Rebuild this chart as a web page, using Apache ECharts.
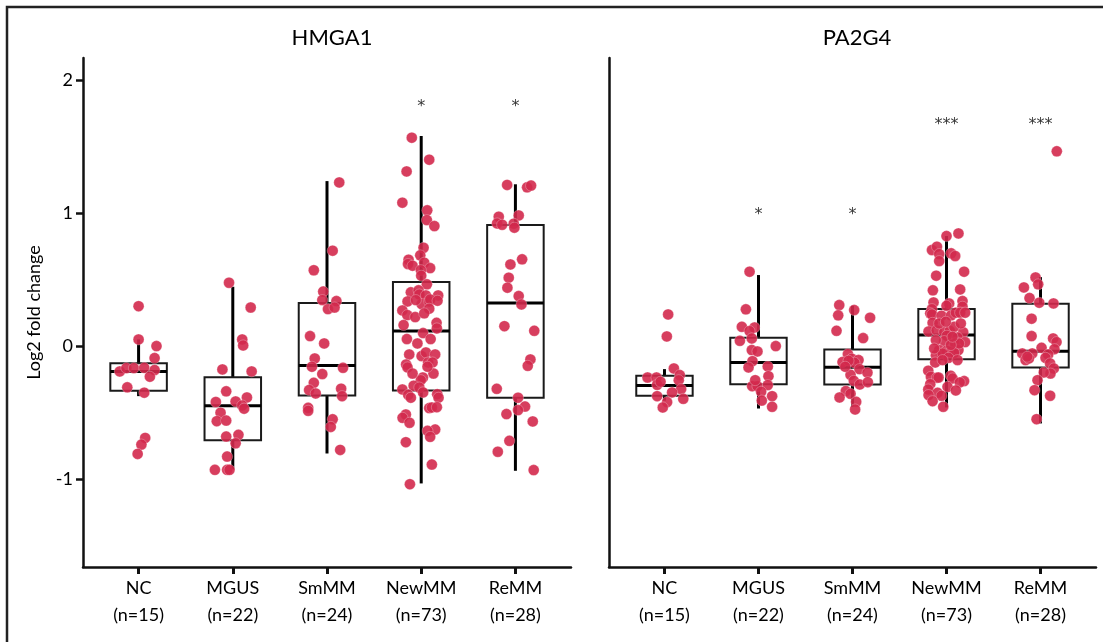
<!DOCTYPE html>
<html>
<head>
<meta charset="utf-8">
<title>HMGA1 / PA2G4</title>
<script src="https://cdn.jsdelivr.net/npm/echarts@6/dist/echarts.min.js"></script>
<style>
html,body{margin:0;padding:0;background:#fff;}
#chart{width:1103px;height:642px;}
</style>
</head>
<body>
<div id="chart"></div>
<script>
var groups = ['NC', 'MGUS', 'SmMM', 'NewMM', 'ReMM'];
var counts = [15, 22, 24, 73, 28];
var yTicks = [-1, 0, 1, 2];
var xTicks = [0, 1, 2, 3, 4];

// box stats per group: [min, q1, median, q3, max]
var hmga1Box = [
	[-0.376, -0.336, -0.19, -0.128, 0.05],
	[-0.927, -0.707, -0.449, -0.235, 0.446],
	[-0.807, -0.371, -0.145, 0.323, 1.24],
	[-1.032, -0.333, 0.113, 0.481, 1.579],
	[-0.937, -0.389, 0.323, 0.91, 1.216]
];
var pa2g4Box = [
	[-0.41, -0.373, -0.296, -0.223, -0.173],
	[-0.469, -0.286, -0.123, 0.063, 0.534],
	[-0.456, -0.288, -0.158, -0.025, 0.303],
	[-0.461, -0.098, 0.083, 0.278, 0.827],
	[-0.581, -0.16, -0.038, 0.318, 0.519]
];

// significance marks
var hmga1Sig = ['', '', '', '*', '*'];
var hmga1SigY = [0, 0, 0, 1.80, 1.80];
var pa2g4Sig = ['', '*', '*', '***', '***'];
var pa2g4SigY = [0, 0.99, 0.99, 1.66, 1.66];

// points per group: [value, jitter]
var hmga1NC = [[0.30,0],[0.05,0],[0.0,0.19],[-0.09,0.17],[-0.19,-0.20],[-0.165,-0.13],[-0.165,-0.05],[-0.163,0.06],[-0.18,0.17],[-0.23,0.12],[-0.31,-0.12],[-0.35,0.06],[-0.69,0.07],[-0.74,0.03],[-0.81,-0.01]];
var hmga1MGUS = [[0.476,-0.04],[0.29,0.19],[0.05,0.10],[0.005,0.11],[-0.175,-0.11],[-0.19,0.20],[-0.34,-0.07],[-0.386,0.15],[-0.42,-0.18],[-0.416,0.03],[-0.446,0.10],[-0.50,-0.13],[-0.564,-0.17],[-0.56,-0.07],[-0.47,0.12],[-0.68,-0.07],[-0.667,0.06],[-0.73,0.03],[-0.83,-0.06],[-0.93,-0.19],[-0.93,-0.06],[-0.93,-0.035]];
var hmga1SmMM = [[1.23,0.13],[0.717,0.06],[0.57,-0.14],[0.41,-0.04],[0.346,-0.05],[0.338,0.10],[0.278,0.01],[0.29,0.08],[0.075,-0.18],[0.02,-0.03],[-0.093,-0.13],[-0.155,-0.16],[-0.163,0.17],[-0.21,-0.05],[-0.276,-0.14],[-0.33,-0.19],[-0.356,-0.12],[-0.32,0.15],[-0.376,0.16],[-0.464,-0.20],[-0.486,-0.20],[-0.55,0.06],[-0.607,0.04],[-0.78,0.14]];
var hmga1NewMM = [[1.566,-0.10],[1.401,0.085],[1.313,-0.155],[1.078,-0.20],[1.020,0.064],[0.947,0.06],[0.902,0.14],[0.739,0.025],[0.682,-0.01],[0.649,-0.134],[0.617,-0.14],[0.604,-0.092],[0.627,0.032],[0.586,0.095],[0.571,-0.004],[0.529,0],[0.464,0.06],
	[0.404,-0.11],[0.419,-0.028],[0.388,-0.02],[0.381,0.05],[0.381,0.18],[0.336,-0.145],[0.316,0.004],[0.336,0.085],[0.351,0.095],[0.341,0.173],[0.268,-0.20],[0.233,-0.148],[0.281,0.085],[0.218,-0.064],[0.158,-0.187],[0.175,0.163],[0.133,0.166],
	[0.098,0.02],[0.053,-0.152],[0.053,0.10],[-0.063,-0.127],[-0.075,0.004],[-0.048,0.05],[-0.063,0.148],[-0.123,0.074],[-0.123,0.12],[-0.138,-0.16],[-0.16,-0.145],[-0.206,0.13],[-0.236,0.018],[-0.256,-0.004],[-0.298,-0.08],[-0.311,-0.02],[-0.326,-0.20],[-0.366,-0.138],[-0.388,-0.11],[-0.348,0.02],
	[-0.361,0.17],[-0.388,0.184],[-0.466,0.085],[-0.461,0.113],[-0.459,0.166],[-0.514,-0.163],[-0.539,-0.198],[-0.576,-0.124],[-0.627,0.148],[-0.637,0.067],[-0.682,0.095],[-0.722,-0.163],[-0.89,0.113],[-1.038,-0.12],
	[0.346,-0.057],[0.246,0.032],[0.02,-0.04],[-0.155,0.067],[-0.206,-0.092]];
var hmga1ReMM = [[1.211,-0.088],[1.193,0.124],[1.206,0.166],[0.972,-0.177],[0.982,0.035],[0.922,-0.194],[0.912,-0.141],[0.920,-0.018],[0.890,-0.011],[0.614,-0.053],[0.652,0.071],[0.514,-0.071],[0.439,-0.085],[0.376,0.035],[0.313,0.064],[0.150,-0.117],[0.115,0.20],[-0.10,0.159],[-0.148,0.131],[-0.321,-0.198],[-0.388,0.028],[-0.454,0.102],[-0.511,-0.095],[-0.481,0.028],[-0.566,0.184],[-0.712,-0.064],[-0.794,-0.187],[-0.932,0.194]];

var pa2g4NC = [[0.238,0.039],[0.073,0.025],[-0.168,0.10],[-0.236,-0.18],[-0.236,-0.085],[-0.218,0.163],[-0.256,0.152],[-0.291,-0.078],[-0.323,0.177],[-0.348,0.081],[-0.376,-0.078],[-0.396,0.20],[-0.421,0.028],[-0.461,-0.018],[-0.268,-0.042]];
var pa2g4MGUS = [[0.559,-0.095],[0.276,-0.134],[0.145,-0.177],[0.140,-0.042],[0.113,-0.095],[0.058,-0.071],[0.040,-0.198],[0.0,0.184],[-0.030,-0.071],[-0.040,-0.011],[-0.113,-0.064],[-0.160,-0.106],[-0.153,0.099],[-0.226,0.106],[-0.301,-0.067],[-0.301,-0.011],[-0.293,0.099],[-0.343,0.028],[-0.376,0.145],[-0.409,0.035],[-0.456,0.145],[-0.256,-0.035]];
var pa2g4SmMM = [[0.308,-0.141],[0.271,0.018],[0.213,0.187],[0.231,-0.152],[0.115,-0.17],[0.060,0.113],[-0.060,-0.049],[-0.120,-0.106],[-0.095,-0.007],[-0.105,0.064],[-0.125,0.021],[-0.110,-0.042],[-0.173,0.074],[-0.216,-0.021],[-0.200,0.159],[-0.261,0.014],[-0.288,0.078],[-0.271,0.163],[-0.338,-0.071],[-0.358,-0.021],[-0.386,-0.138],[-0.419,0.039],[-0.476,0.028],[-0.155,-0.078]];
var pa2g4NewMM = [[0.827,0],[0.847,0.127],[0.722,-0.155],[0.747,-0.102],[0.692,-0.078],[0.697,0.049],[0.677,0.092],[0.639,-0.078],[0.529,-0.11],[0.559,0.187],
	[0.419,-0.145],[0.426,0.145],[0.328,-0.138],[0.338,0.17],[0.321,0.028],[0.303,0],[0.278,-0.155],[0.296,0.17],[0.246,-0.173],[0.238,-0.155],
	[0.228,-0.053],[0.231,0.049],[0.251,0.099],[0.251,0.145],[0.251,0.198],[0.175,-0.148],[0.110,-0.191],[0.118,-0.106],[0.105,-0.025],[0.115,0.035],
	[0.105,0.177],[0.078,0.004],[0.065,0.117],[0.038,-0.025],[0.020,0.092],[0.030,0.198],[-0.030,-0.078],[-0.035,0],[-0.043,0.046],[-0.030,0.127],
	[-0.068,-0.113],[-0.055,-0.042],[-0.050,0.081],[-0.088,0.021],[-0.123,-0.12],[-0.185,-0.194],[-0.231,-0.166],[-0.238,-0.102],[-0.223,0.046],[-0.236,-0.085],
	[-0.243,0.064],[-0.263,0.187],[-0.273,0.141],[-0.286,-0.173],[-0.306,0.011],[-0.326,-0.194],[-0.333,0.099],[-0.351,-0.095],[-0.373,-0.053],[-0.368,-0.191],
	[-0.414,-0.148],[-0.456,-0.035],
	[0.170,-0.078],[0.145,0.081],[0.020,0.134],[0.045,-0.113],[0.008,0.046],[-0.105,-0.042],[-0.105,0.117],[-0.018,-0.131],[0.183,-0.007],[0.170,0.152],[0.070,0.064]];
var pa2g4ReMM = [[1.464,0.173],[0.516,-0.053],[0.464,-0.025],[0.441,-0.177],[0.361,-0.117],[0.326,-0.014],[0.321,0.138],[0.206,-0.095],[0.075,-0.095],[0.058,0.134],[0.030,0.170],[-0.013,0.011],[-0.023,0.148],[-0.055,-0.194],[-0.055,-0.088],[-0.105,-0.159],[-0.093,-0.124],[-0.063,0.081],[-0.088,0.053],[-0.130,0.102],[-0.168,0.141],[-0.206,0.106],[-0.198,0.035],[-0.256,-0.032],[-0.331,-0.064],[-0.373,0.102],[-0.549,-0.042],[-0.080,-0.141]];

var hmga1Pts = [hmga1NC, hmga1MGUS, hmga1SmMM, hmga1NewMM, hmga1ReMM];
var pa2g4Pts = [pa2g4NC, pa2g4MGUS, pa2g4SmMM, pa2g4NewMM, pa2g4ReMM];

var font = 'Lato, "Open Sans", sans-serif';
var ink = '#000';
var dotColor = '#d3294d';

function pointData(sets){
	var out = [];
	for(var i=0;i<sets.length;i++){
		for(var k=0;k<sets[i].length;k++){
			out.push([i + sets[i][k][1], sets[i][k][0]]);
		}
	}
	return out;
}

function boxData(stats){
	var out = [];
	for(var i=0;i<stats.length;i++){
		out.push([i].concat(stats[i]));
	}
	return out;
}

function sigData(marks, ys){
	var out = [];
	for(var i=0;i<marks.length;i++){
		if(marks[i]) out.push([i, ys[i], marks[i]]);
	}
	return out;
}

function renderBox(params, api){
	var i = api.value(0);
	var lo = api.coord([i, api.value(1)]);
	var q1 = api.coord([i, api.value(2)]);
	var md = api.coord([i, api.value(3)]);
	var q3 = api.coord([i, api.value(4)]);
	var hi = api.coord([i, api.value(5)]);
	var half = api.size([0.3, 0])[0];
	var x = md[0];
	return {
		type: 'group',
		children: [
			{type:'line', shape:{x1:x, y1:hi[1], x2:x, y2:q3[1]}, style:{stroke:'#000', lineWidth:3}},
			{type:'line', shape:{x1:x, y1:q1[1], x2:x, y2:lo[1]}, style:{stroke:'#000', lineWidth:3}},
			{type:'rect', shape:{x:x-half, y:q3[1], width:half*2, height:q1[1]-q3[1]}, style:{fill:'none', stroke:'#1a1a1a', lineWidth:2}},
			{type:'line', shape:{x1:x-half, y1:md[1], x2:x+half, y2:md[1]}, style:{stroke:'#000', lineWidth:3}}
		]
	};
}

function xAxisFor(idx){
	return {
		type: 'value', gridIndex: idx, min: -0.59, max: 4.59,
		axisLine: {onZero: false, lineStyle: {color: '#111', width: 2.5}},
		axisTick: {customValues: xTicks, length: 7, lineStyle: {color: '#111', width: 3}},
		axisLabel: {
			customValues: xTicks, margin: 8, color: ink, fontFamily: font, fontSize: 18, lineHeight: 27,
			formatter: function(v){ var i = Math.round(v); return groups[i] + '\n(n=' + counts[i] + ')'; }
		},
		splitLine: {show: false}
	};
}

function yAxisFor(idx, withLabels){
	return {
		type: 'value', gridIndex: idx, min: -1.66, max: 2.165,
		name: withLabels ? 'Log2 fold change' : '',
		nameLocation: 'middle', nameRotate: 90, nameGap: 40,
		nameTextStyle: {color: ink, fontFamily: font, fontSize: 18},
		axisLine: {show: true, onZero: false, lineStyle: {color: '#111', width: 2.5}},
		axisTick: {show: withLabels, customValues: yTicks, length: 7, lineStyle: {color: '#111', width: 2.5}},
		axisLabel: {show: withLabels, customValues: yTicks, margin: 10, color: ink, fontFamily: font, fontSize: 18},
		splitLine: {show: false}
	};
}

function panelSeries(idx, stats, pts, marks, markY){
	return [
		{
			type: 'custom', xAxisIndex: idx, yAxisIndex: idx, z: 2,
			renderItem: renderBox,
			encode: {x: 0, y: [1, 2, 3, 4, 5]},
			data: boxData(stats)
		},
		{
			type: 'scatter', xAxisIndex: idx, yAxisIndex: idx, z: 3,
			symbolSize: 11,
			itemStyle: {color: dotColor, opacity: 0.9, borderColor: 'rgba(255,255,255,0.5)', borderWidth: 0.6},
			data: pointData(pts)
		},
		{
			type: 'scatter', xAxisIndex: idx, yAxisIndex: idx, z: 4,
			symbolSize: 1, itemStyle: {color: 'rgba(0,0,0,0)'},
			label: {show: true, position: 'inside', color: '#000', fontFamily: '"DejaVu Sans", sans-serif', fontSize: 16,
				formatter: function(p){ return p.data[2]; }},
			data: sigData(marks, markY)
		}
	];
}

var chart = echarts.init(document.getElementById('chart'));
var option = {
	animation: false,
	backgroundColor: '#fff',
	title: [
		{text: 'HMGA1', left: 327, top: 22, textAlign: 'center', textStyle: {color: ink, fontFamily: font, fontSize: 22, fontWeight: 'normal'}},
		{text: 'PA2G4', left: 852, top: 22, textAlign: 'center', textStyle: {color: ink, fontFamily: font, fontSize: 22, fontWeight: 'normal'}}
	],
	graphic: [
		{type: 'polyline', silent: true, shape: {points: [[7, 660], [7, 7], [1110, 7]]}, style: {stroke: '#222', lineWidth: 2.5, fill: null}}
	],
	grid: [
		{left: 83, width: 488, top: 58, bottom: 75},
		{left: 609, width: 487, top: 58, bottom: 75}
	],
	xAxis: [xAxisFor(0), xAxisFor(1)],
	yAxis: [yAxisFor(0, true), yAxisFor(1, false)],
	series: panelSeries(0, hmga1Box, hmga1Pts, hmga1Sig, hmga1SigY)
		.concat(panelSeries(1, pa2g4Box, pa2g4Pts, pa2g4Sig, pa2g4SigY))
};
chart.setOption(option);
</script>
</body>
</html>
